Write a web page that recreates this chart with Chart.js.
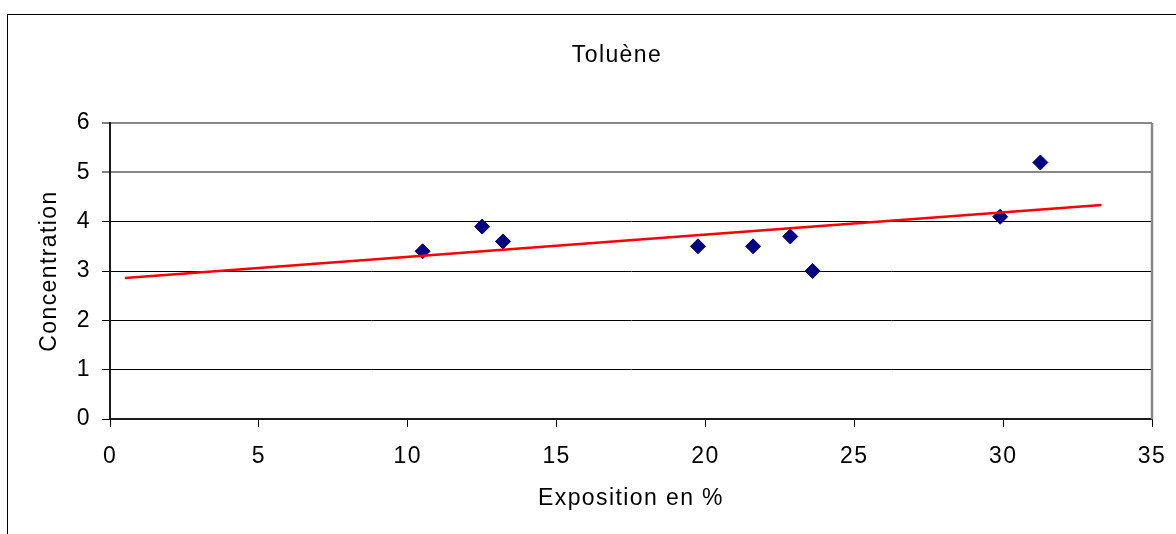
<!DOCTYPE html>
<html>
<head>
<meta charset="utf-8">
<script src="https://cdn.jsdelivr.net/npm/chart.js@4"></script>
<style>
  html, body { margin: 0; padding: 0; background: #fff; }
  #wrap { width: 1176px; height: 534px; }
</style>
</head>
<body>
<div id="wrap"><canvas id="chart" width="1176" height="534"></canvas></div>
<script>
// Données
const chartTitle = 'Toluène';
const xTitle = 'Exposition en %';
const yTitle = 'Concentration';

const exposition = [10.5, 12.5, 13.2, 19.75, 21.6, 22.85, 23.6, 29.9, 31.25];
const concentration = [3.4, 3.9, 3.6, 3.5, 3.5, 3.7, 3.0, 4.1, 5.2];

// courbe de tendance (extrémités)
const trendX = [0.5, 33.3];
const trendY = [2.86, 4.34];

const xTicks = [0, 5, 10, 15, 20, 25, 30, 35];
const yTicks = [0, 1, 2, 3, 4, 5, 6];

const FONT = '"Liberation Sans", Arial, sans-serif';
const FSIZE = 23;

// cadre extérieur + titre + bord droit gris de la zone de tracé
const frameAndTitle = {
    id: 'frameAndTitle',
    beforeDraw(chart) {
        const ctx = chart.ctx;
        ctx.letterSpacing = '1.4px';
        ctx.save();
        ctx.strokeStyle = '#000';
        ctx.lineWidth = 1;
        ctx.strokeRect(7.5, 14.5, 1300, 700);
        ctx.restore();
    },
    beforeDatasetsDraw(chart) {
        const { ctx, chartArea } = chart;
        ctx.save();
        ctx.strokeStyle = '#888';
        ctx.lineWidth = 2.5;
        ctx.beginPath();
        ctx.moveTo(chartArea.right, chartArea.top);
        ctx.lineTo(chartArea.right, chartArea.bottom);
        ctx.stroke();
        ctx.restore();
    },
    afterDraw(chart) {
        const ctx = chart.ctx;
        ctx.save();
        ctx.font = FSIZE + 'px ' + FONT;
        ctx.fillStyle = '#000';
        ctx.textAlign = 'center';
        ctx.textBaseline = 'alphabetic';
        ctx.fillText(chartTitle, 617, 61.5);
        ctx.restore();
    }
};

new Chart(document.getElementById('chart'), {
    type: 'scatter',
    data: {
        datasets: [
            {
                label: 'Tendance',
                data: trendX.map((x, i) => ({ x: x, y: trendY[i] })),
                showLine: true,
                borderColor: '#ff0000',
                borderWidth: 2.5,
                pointRadius: 0,
                order: 0
            },
            {
                label: 'Toluène',
                data: exposition.map((x, i) => ({ x: x, y: concentration[i] })),
                pointStyle: 'rectRot',
                pointRadius: 7.5,
                pointBackgroundColor: '#000080',
                pointBorderColor: '#000080',
                pointBorderWidth: 1,
                order: 1
            }
        ]
    },
    options: {
        responsive: false,
        animation: false,
        devicePixelRatio: 1,
        layout: { padding: { top: 123, right: 24, bottom: 0, left: 0 } },
        plugins: {
            legend: { display: false },
            tooltip: { enabled: false },
            title: { display: false }
        },
        scales: {
            x: {
                type: 'linear',
                min: 0,
                max: 35,
                afterFit: (scale) => {
                    scale.height = 115;
                    scale.paddingLeft = 0;
                    scale.paddingRight = 0;
                },
                afterBuildTicks: (scale) => { scale.ticks = xTicks.map(v => ({ value: v })); },
                grid: {
                    drawOnChartArea: false,
                    drawTicks: true,
                    tickLength: 8,
                    tickColor: '#000',
                    tickWidth: 1
                },
                border: { color: '#1a1a1a', width: 2 },
                ticks: {
                    padding: 15.5,
                    color: '#000',
                    maxRotation: 0,
                    font: { family: FONT, size: FSIZE }
                },
                title: {
                    display: true,
                    text: xTitle,
                    color: '#000',
                    font: { family: FONT, size: FSIZE },
                    padding: { top: 0, bottom: 21.5 }
                }
            },
            y: {
                min: 0,
                max: 6,
                afterFit: (scale) => { scale.width = 110; },
                afterBuildTicks: (scale) => { scale.ticks = yTicks.map(v => ({ value: v })); },
                grid: {
                    color: (c) => (c.tick && c.tick.value >= 5 ? '#888' : '#000'),
                    lineWidth: (c) => (c.tick && c.tick.value >= 5 ? 2 : 1),
                    drawTicks: true,
                    tickLength: 8,
                    tickColor: '#000',
                    tickWidth: 1
                },
                border: { color: '#1a1a1a', width: 2 },
                ticks: {
                    padding: 11,
                    color: '#000',
                    font: { family: FONT, size: FSIZE }
                },
                title: {
                    display: true,
                    text: yTitle,
                    color: '#000',
                    font: { family: FONT, size: FSIZE },
                    padding: { top: 35.5, bottom: 0 }
                }
            }
        }
    },
    plugins: [frameAndTitle]
});
</script>
</body>
</html>
